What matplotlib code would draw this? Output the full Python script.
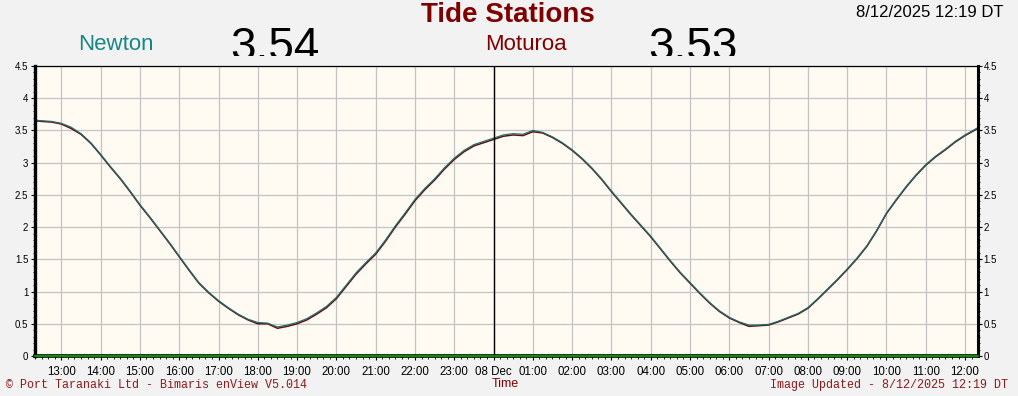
import matplotlib.pyplot as plt
from matplotlib.ticker import MultipleLocator, FixedLocator
from matplotlib.transforms import Bbox

# hours since 7 Dec 00:00 (readings every 15 min, first/last at 12:19)
hours = [12.32, 12.50, 12.75, 13.00, 13.25, 13.50, 13.75, 14.00, 14.25, 14.50,
         14.75, 15.00, 15.25, 15.50, 15.75, 16.00, 16.25, 16.50, 16.75, 17.00,
         17.25, 17.50, 17.75, 18.00, 18.25, 18.50, 18.75, 19.00, 19.25, 19.50,
         19.75, 20.00, 20.25, 20.50, 20.75, 21.00, 21.25, 21.50, 21.75, 22.00,
         22.25, 22.50, 22.75, 23.00, 23.25, 23.50, 23.75, 24.00, 24.25, 24.50,
         24.75, 25.00, 25.25, 25.50, 25.75, 26.00, 26.25, 26.50, 26.75, 27.00,
         27.25, 27.50, 27.75, 28.00, 28.25, 28.50, 28.75, 29.00, 29.25, 29.50,
         29.75, 30.00, 30.25, 30.50, 30.75, 31.00, 31.25, 31.50, 31.75, 32.00,
         32.25, 32.50, 32.75, 33.00, 33.25, 33.50, 33.75, 34.00, 34.25, 34.50,
         34.75, 35.00, 35.25, 35.50, 35.75, 36.00, 36.32]

newton = [3.66, 3.65, 3.64, 3.61, 3.55, 3.45, 3.31, 3.13, 2.94, 2.76,
          2.56, 2.35, 2.16, 1.96, 1.76, 1.55, 1.34, 1.14, 0.99, 0.86,
          0.75, 0.65, 0.57, 0.52, 0.51, 0.45, 0.48, 0.52, 0.58, 0.67,
          0.77, 0.91, 1.10, 1.29, 1.45, 1.60, 1.80, 2.02, 2.22, 2.43,
          2.60, 2.75, 2.92, 3.07, 3.19, 3.28, 3.33, 3.38, 3.43, 3.45,
          3.44, 3.50, 3.47, 3.40, 3.31, 3.20, 3.07, 2.92, 2.75, 2.56,
          2.38, 2.20, 2.03, 1.86, 1.67, 1.48, 1.30, 1.14, 0.98, 0.83,
          0.70, 0.60, 0.53, 0.48, 0.48, 0.49, 0.54, 0.60, 0.66, 0.75,
          0.89, 1.04, 1.19, 1.35, 1.52, 1.71, 1.95, 2.22, 2.43, 2.63,
          2.81, 2.97, 3.10, 3.21, 3.33, 3.43, 3.54]

moturoa = [3.65, 3.64, 3.63, 3.60, 3.53, 3.44, 3.30, 3.12, 2.93, 2.75,
           2.55, 2.34, 2.15, 1.95, 1.75, 1.54, 1.33, 1.13, 0.98, 0.85,
           0.74, 0.64, 0.56, 0.50, 0.50, 0.43, 0.46, 0.50, 0.56, 0.65,
           0.75, 0.89, 1.08, 1.27, 1.43, 1.58, 1.78, 2.00, 2.20, 2.41,
           2.58, 2.73, 2.90, 3.05, 3.17, 3.26, 3.31, 3.36, 3.41, 3.43,
           3.42, 3.48, 3.46, 3.39, 3.30, 3.19, 3.06, 2.91, 2.74, 2.55,
           2.37, 2.19, 2.02, 1.85, 1.66, 1.47, 1.29, 1.13, 0.97, 0.82,
           0.69, 0.59, 0.52, 0.46, 0.47, 0.48, 0.53, 0.59, 0.65, 0.74,
           0.88, 1.03, 1.18, 1.34, 1.51, 1.70, 1.94, 2.21, 2.42, 2.62,
           2.80, 2.96, 3.09, 3.20, 3.32, 3.42, 3.53]

tick_hours = list(range(13, 37))
tick_labels = ['13:00', '14:00', '15:00', '16:00', '17:00', '18:00', '19:00',
               '20:00', '21:00', '22:00', '23:00', '08 Dec', '01:00', '02:00',
               '03:00', '04:00', '05:00', '06:00', '07:00', '08:00', '09:00',
               '10:00', '11:00', '12:00']
y_ticks = [0, 0.5, 1, 1.5, 2, 2.5, 3, 3.5, 4, 4.5]
y_labels = ['0', '0.5', '1', '1.5', '2', '2.5', '3', '3.5', '4', '4.5']

stations = ['Newton', 'Moturoa']
current = ['3.54', '3.53']
now_text = '8/12/2025 12:19 DT'

TEAL = '#1a8585'
MAROON = '#800000'

plt.rcParams['font.family'] = ['Liberation Sans', 'DejaVu Sans']

W, H = 1018, 396
fig = plt.figure(figsize=(W / 100, H / 100), dpi=100, facecolor='#f2f2f2')
ax = fig.add_axes([34.5 / W, 40 / H, 943 / W, 290 / H])
ax.set_facecolor('#fffaf2')

ax.plot(hours, moturoa, color='#6a0a0a', lw=1.1, zorder=2)
ax.plot(hours, newton, color='#1d6e6e', lw=0.9, zorder=2)

ax.axvline(24, color='black', lw=1.0, zorder=3)
ax.axhline(0, color='#00a000', lw=1.3, zorder=4, clip_on=False)

ax.set_xlim(12.3167, 36.3167)
ax.set_ylim(0, 4.5)

ax.xaxis.set_major_locator(FixedLocator(tick_hours))
ax.set_xticks(tick_hours)
ax.set_xticklabels(tick_labels)
ax.xaxis.set_minor_locator(MultipleLocator(1 / 6))
ax.set_yticks(y_ticks)
ax.set_yticklabels(y_labels)
ax.yaxis.set_minor_locator(MultipleLocator(0.1))

ax.grid(True, which='major', color='#c4c4c4', lw=0.9)
ax.set_axisbelow(True)

ax.tick_params(axis='x', which='major', length=3, width=0.8, labelsize=8.3, pad=4)
ax.tick_params(axis='x', which='minor', length=2.5, width=0.6)
ax.tick_params(axis='y', which='major', length=3, width=0.8, labelsize=7,
               left=True, right=True, labelleft=True, labelright=True, pad=1.5)
ax.tick_params(axis='y', which='minor', length=1.5, width=0.6,
               left=True, right=True)

for side, lw in [('left', 2.4), ('right', 2.2), ('top', 0.9), ('bottom', 2.6)]:
    ax.spines[side].set_color('black')
    ax.spines[side].set_linewidth(lw)

# header
fig.text(508 / W, 1 - 22 / H, 'Tide Stations', color=MAROON, fontsize=20,
         fontweight='bold', ha='center', va='baseline')
fig.text(1003 / W, 1 - 17 / H, now_text, color='black', fontsize=12,
         ha='right', va='baseline')
fig.text(116 / W, 1 - 50 / H, stations[0], color=TEAL, fontsize=16,
         ha='center', va='baseline')
fig.text(526 / W, 1 - 50 / H, stations[1], color=MAROON, fontsize=16,
         ha='center', va='baseline')

# big readings, cut off just above the plot area
clip = Bbox.from_extents(0, H - 56, W, H)
for xc, val in [(275, current[0]), (693, current[1])]:
    t = fig.text(xc / W, 1 - 60 / H, val, color='black', fontsize=33,
                 ha='center', va='baseline')
    t.set_clip_box(clip)
    t.set_clip_on(True)

# footer
fig.text(6 / W, 1 - 385 / H, '\u00a9 Port Taranaki Ltd - Bimaris enView V5.014',
         family='Liberation Mono', color='#8b1a1a', fontsize=8.4,
         ha='left', va='center')
fig.text(1008 / W, 1 - 385 / H, 'Image Updated - ' + now_text,
         family='Liberation Mono', color='#8b1a1a', fontsize=8.4,
         ha='right', va='center')
fig.text(505 / W, 1 - 384 / H, 'Time', color=MAROON, fontsize=9,
         ha='center', va='center')

fig.savefig('out.png', dpi=100, facecolor=fig.get_facecolor())
